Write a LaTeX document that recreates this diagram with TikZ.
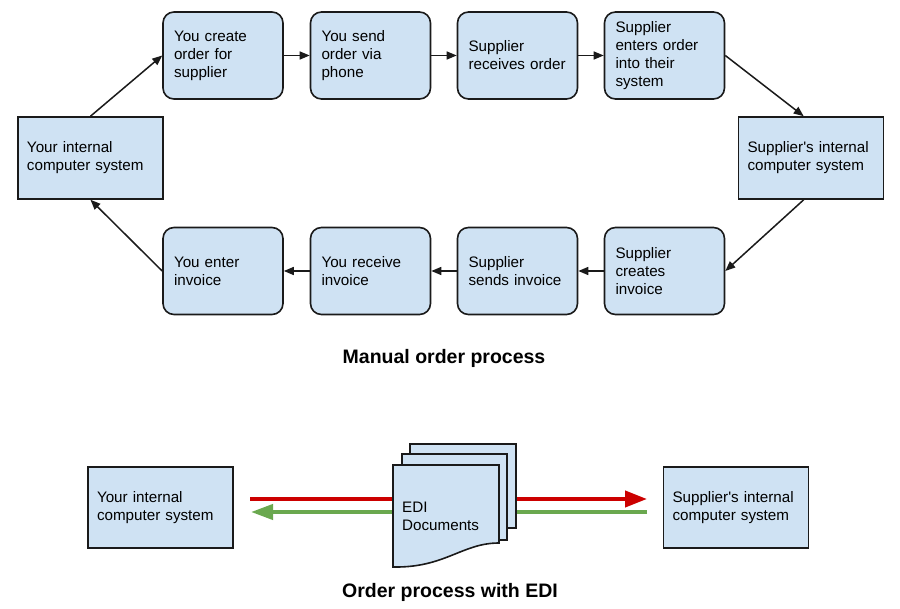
\documentclass[tikz,border=0pt]{standalone}
\usepackage{fontspec}
\setmainfont{Liberation Sans}
\usetikzlibrary{arrows.meta,calc}
\definecolor{boxblue}{HTML}{CFE2F3}
\definecolor{edired}{HTML}{CC0000}
\definecolor{edigreen}{HTML}{6AA84F}
\definecolor{edge}{HTML}{1A1A1A}
\begin{document}
\begin{tikzpicture}[x=1pt,y=-1pt,
 txt/.style={font=\fontsize{15.2}{18}\selectfont, align=left, text=black},
 rbox/.style={txt, draw=edge, line width=1.6pt, fill=boxblue, rounded corners=11pt, text width=98pt, inner xsep=11pt, minimum height=87pt},
 sbox/.style={txt, draw=edge, line width=1.6pt, fill=boxblue, text width=127pt, inner xsep=9pt, minimum height=82pt},
 flow/.style={draw=edge, line width=1.5pt, -{Triangle[length=10pt,width=8pt]}},
 page/.style={draw=edge, line width=1.6pt, fill=boxblue},
 title/.style={font=\fontsize{19.5}{22}\selectfont\bfseries, text=black},
 ediline/.style={line width=4pt}
]
\fill[white] (0,0) rectangle (900,609);
\useasboundingbox (0,0) rectangle (900,609);

% Manual order process
\node[rbox] (b1) at (223,55.5) {You create\\order for\\supplier};
\node[rbox] (b2) at (370.5,55.5) {You send\\order via\\phone};
\node[rbox] (b3) at (517.5,55.5) {Supplier\\receives order};
\node[rbox] (b4) at (664.5,55.5) {Supplier\\enters order\\into their\\system};
\node[sbox] (L) at (90.5,158) {Your internal\\computer system};
\node[sbox] (R) at (811,158) {Supplier\textquotesingle s internal\\computer system};
\node[rbox] (b8) at (664.5,271) {Supplier\\creates\\invoice};
\node[rbox] (b7) at (517.5,271) {Supplier\\sends invoice};
\node[rbox] (b6) at (370.5,271) {You receive\\invoice};
\node[rbox] (b5) at (223,271) {You enter\\invoice};

\draw[flow] (L.north) -- (b1.west);
\draw[flow] (b1.east) -- (b2.west);
\draw[flow] (b2.east) -- (b3.west);
\draw[flow] (b3.east) -- (b4.west);
\draw[flow] (b4.east) -- ($(R.north west)!0.45!(R.north east)$);
\draw[flow] ($(R.south west)!0.45!(R.south east)$) -- (b8.east);
\draw[flow] (b8.west) -- (b7.east);
\draw[flow] (b7.west) -- (b6.east);
\draw[flow] (b6.west) -- (b5.east);
\draw[flow] (b5.west) -- (L.south);

\node[title] (t1) at (444,358) {Manual order process};

% Order process with EDI
\node[sbox, minimum height=81pt] (EL) at (160.5,507.5) {Your internal\\computer system};
\node[sbox, minimum height=81pt] (ER) at (736,507.5) {Supplier\textquotesingle s internal\\computer system};

\coordinate (rs) at (250,499);
\coordinate (re) at (647,499);
\coordinate (gs) at (647,512);
\coordinate (ge) at (251,512);
\draw[ediline, edired, -{Triangle[length=22pt,width=16pt]}] (rs) -- (re);
\draw[ediline, edigreen, -{Triangle[length=22pt,width=15pt]}] (gs) -- (ge);

\filldraw[page] (410,444) rectangle (516,528);
\filldraw[page] (402,454) rectangle (507,540);
\filldraw[page] (393,465) -- (499,465) -- (499,543)
  .. controls (462,543) and (445,568) .. (393,567) -- cycle;
\node[txt, anchor=west, inner sep=0pt] (edi) at (402,516) {EDI\\Documents};

\node[title] (t2) at (450,592) {Order process with EDI};
\end{tikzpicture}
\end{document}
